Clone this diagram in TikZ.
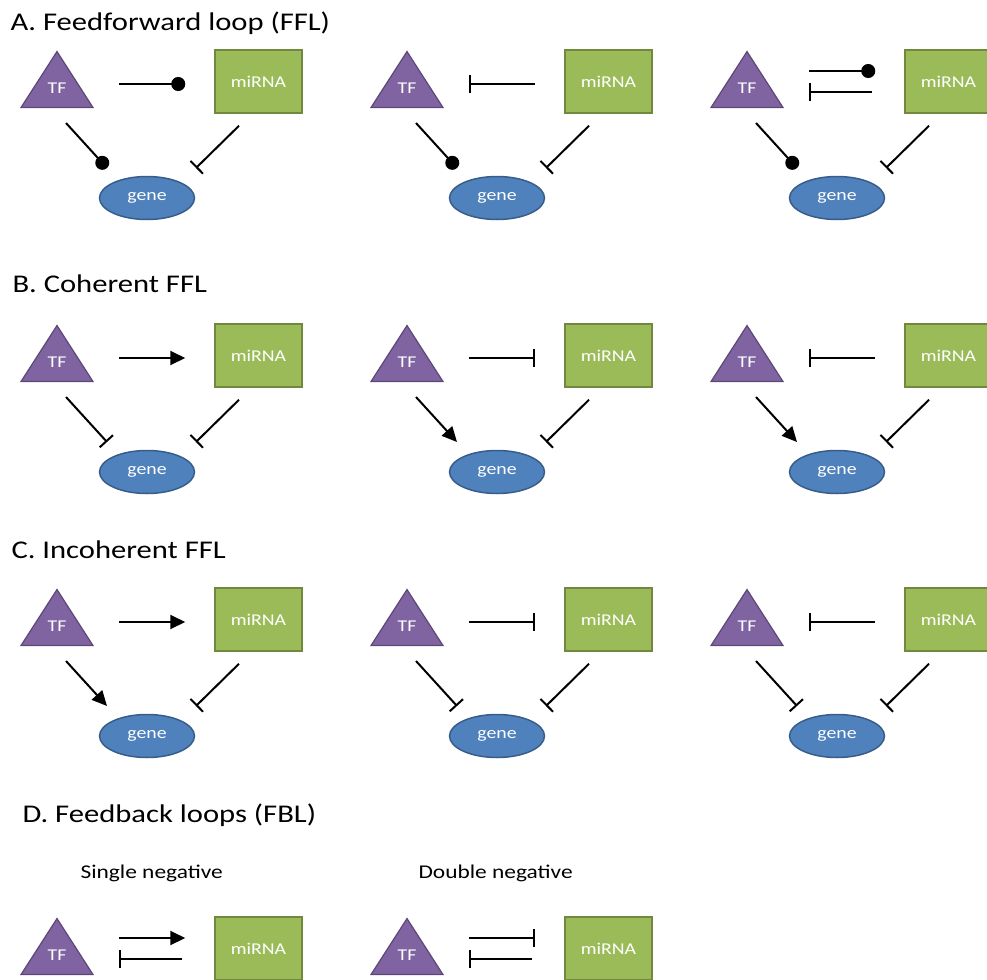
\documentclass[tikz,border=0pt]{standalone}
\usepackage{fontspec}
\setmainfont{Carlito}[FakeStretch=1.2]
\usetikzlibrary{shapes.geometric,arrows.meta}
\definecolor{tfpurple}{HTML}{8064A2}
\definecolor{tfedge}{HTML}{5C4776}
\definecolor{mirgreen}{HTML}{9BBB59}
\definecolor{miredge}{HTML}{71893F}
\definecolor{geneblue}{HTML}{4F81BD}
\definecolor{geneedge}{HTML}{385D8A}
\tikzset{
  tfnode/.style={isosceles triangle,isosceles triangle stretches,shape border rotate=90,
    minimum width=72pt,minimum height=56pt,inner sep=0pt,anchor=apex,
    fill=tfpurple,draw=tfedge,line width=1.2pt,text=white,font=\fontsize{16.5}{18}\selectfont},
  mirnode/.style={rectangle,minimum width=87pt,minimum height=63pt,
    fill=mirgreen,draw=miredge,line width=1.5pt,text=white,font=\fontsize{16.5}{18}\selectfont},
  genenode/.style={ellipse,minimum width=95pt,minimum height=43pt,inner sep=0pt,
    fill=geneblue,draw=geneedge,line width=1.5pt,text=white,font=\fontsize{16.5}{18}\selectfont},
  act/.style={line width=2pt,-{Triangle[length=15pt,width=14pt]}},
  inh/.style={line width=2pt,-{Bar[width=18pt]}},
  inhback/.style={line width=2pt,{Bar[width=18pt]}-},
  dot/.style={line width=2pt,-{Circle[length=14pt]}},
  head/.style={anchor=base west,font=\fontsize{25.5}{30}\selectfont},
  subhead/.style={anchor=base west,font=\fontsize{19.5}{22}\selectfont}
}
\newcommand{\motifnodes}[3]{%
  \node[tfnode] (#1tf) at (#2+57,#3+50) {\raisebox{0pt}[0pt][0pt]{TF}};
  \node[mirnode] (#1mir) at (#2+258.5,#3+81.5) {miRNA};
  \node[genenode] (#1gene) at (#2+147,#3+198) {gene};}
\newcommand{\loopnodes}[3]{%
  \node[tfnode] (#1tf) at (#2+57,#3+50) {\raisebox{0pt}[0pt][0pt]{TF}};
  \node[mirnode] (#1mir) at (#2+258.5,#3+81.5) {miRNA};}
\newcommand{\motiflegs}[2]{%
  \draw[#2] ([shift={(9,73)}]#1tf.apex) -- ([shift={(-40,-30)}]#1gene.center);
  \draw[inh] ([shift={(-19.5,12)}]#1mir.south) -- ([shift={(49,-30)}]#1gene.center);}
\newcommand{\motifcross}[2]{%
  \draw[#2] ([shift={(62,34)}]#1tf.apex) -- ([shift={(-29,2.5)}]#1mir.west);}
\newcommand{\motifpair}[3]{%
  \draw[#2] ([shift={(62,21)}]#1tf.apex) -- ([shift={(-29,-10.5)}]#1mir.west);
  \draw[#3] ([shift={(62,42)}]#1tf.apex) -- ([shift={(-32,10.5)}]#1mir.west);}

\begin{document}
\begin{tikzpicture}[x=1pt,y=-1pt]
    \clip (0,0) rectangle (987,979);

    \node[head] (titleA) at (7,31) {A. Feedforward loop (FFL)};
    \node[head] (titleB) at (9,292) {B. Coherent FFL};
    \node[head] (titleC) at (8,558) {C. Incoherent FFL};
    \node[head] (titleD) at (19,822) {D. Feedback loops (FBL)};
    \node[subhead] (single) at (77,878) {Single negative};
    \node[subhead] (double) at (415,878) {Double negative};

    \motifnodes{a1}{0}{0}     \motifcross{a1}{dot}           \motiflegs{a1}{dot}
    \motifnodes{a2}{350}{0}   \motifcross{a2}{inhback}       \motiflegs{a2}{dot}
    \motifnodes{a3}{690}{0}   \motifpair{a3}{dot}{inhback}   \motiflegs{a3}{dot}

    \motifnodes{b1}{0}{274}   \motifcross{b1}{act}           \motiflegs{b1}{inh}
    \motifnodes{b2}{350}{274} \motifcross{b2}{inh}           \motiflegs{b2}{act}
    \motifnodes{b3}{690}{274} \motifcross{b3}{inhback}       \motiflegs{b3}{act}

    \motifnodes{c1}{0}{538}   \motifcross{c1}{act}           \motiflegs{c1}{act}
    \motifnodes{c2}{350}{538} \motifcross{c2}{inh}           \motiflegs{c2}{inh}
    \motifnodes{c3}{690}{538} \motifcross{c3}{inhback}       \motiflegs{c3}{inh}

    \loopnodes{d1}{0}{867}    \motifpair{d1}{act}{inhback}
    \loopnodes{d2}{350}{867}  \motifpair{d2}{inh}{inhback}
\end{tikzpicture}
\end{document}
